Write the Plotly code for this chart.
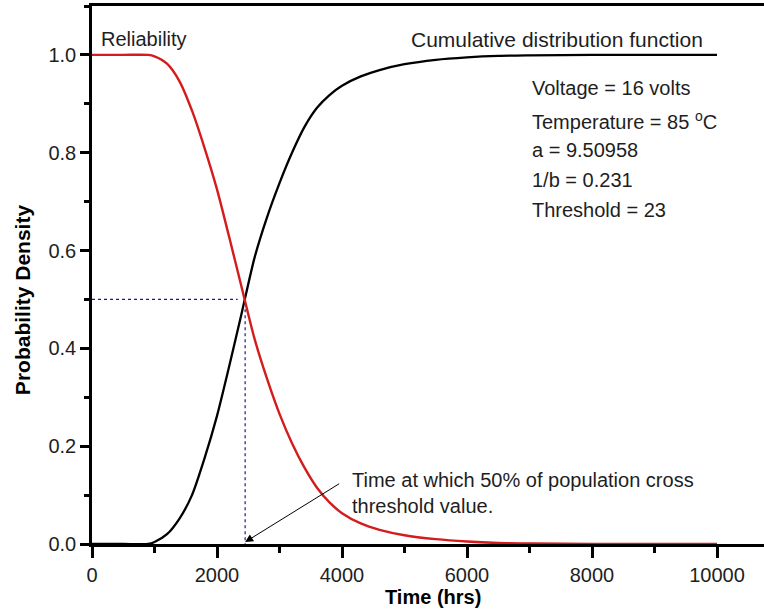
import plotly.graph_objects as go

# Time grid (hours) shared by both curves
time_hrs = [0, 500, 900, 1000, 1200, 1400, 1600, 1800, 2000, 2200, 2400,
            2600, 2800, 3000, 3200, 3400, 3600, 3800, 4000, 4300, 4600, 5000,
            5500, 6000, 6500, 7000, 8000, 9000, 10000]

# Reliability R(t)
reliability = [1.0, 1.0, 1.0, 0.997, 0.982, 0.946, 0.886, 0.810, 0.725, 0.625,
               0.522, 0.420, 0.338, 0.266, 0.206, 0.156, 0.115, 0.085,
               0.063, 0.042, 0.029, 0.018, 0.010, 0.005, 0.002, 0.001, 0.0, 0.0, 0.0]

# Cumulative distribution function F(t)
cdf = [0.0, 0.0, 0.0, 0.004, 0.020, 0.052, 0.100, 0.175, 0.262, 0.366, 0.475,
       0.585, 0.668, 0.738, 0.800, 0.853, 0.892, 0.918, 0.937, 0.956,
       0.969, 0.981, 0.990, 0.995, 0.998, 0.999, 1.0, 1.0, 1.0]

# Median crossing (50 % of population crosses threshold)
median_time = 2450
median_level = 0.5

# Test conditions / fitted parameters
param_lines = ["Voltage = 16 volts",
               "Temperature = 85 <sup>o</sup>C",
               "a = 9.50958",
               "1/b = 0.231",
               "Threshold = 23"]

FONT = "Liberation Sans, Arial, sans-serif"
TXT = "#1e1e1e"

fig = go.Figure()

fig.add_trace(go.Scatter(x=time_hrs, y=cdf, mode="lines",
                         line=dict(color="black", width=2.3, shape="spline", smoothing=0.7),
                         showlegend=False, hoverinfo="skip"))
fig.add_trace(go.Scatter(x=time_hrs, y=reliability, mode="lines",
                         line=dict(color="#d41c1c", width=2.4, shape="spline", smoothing=0.7),
                         showlegend=False, hoverinfo="skip"))

# Dotted guide lines at the median
fig.add_trace(go.Scatter(x=[0, median_time - 120], y=[median_level, median_level], mode="lines",
                         line=dict(color="#1a1a8a", width=1.2, dash="dot"),
                         showlegend=False, hoverinfo="skip"))
fig.add_trace(go.Scatter(x=[median_time, median_time], y=[median_level - 0.02, 0], mode="lines",
                         line=dict(color="#1a1a8a", width=1.2, dash="dot"),
                         showlegend=False, hoverinfo="skip"))

ann = []
ann.append(dict(x=110, y=1.033, xref="x", yref="y", text="Reliability", showarrow=False,
                xanchor="left", yanchor="middle", font=dict(family=FONT, size=20, color=TXT)))
ann.append(dict(x=7440, y=1.031, xref="x", yref="y", text="Cumulative distribution function",
                showarrow=False, xanchor="center", yanchor="middle",
                font=dict(family=FONT, size=21, color=TXT)))

param_y = [0.932, 0.865, 0.806, 0.745, 0.683]
for txt, yy in zip(param_lines, param_y):
    ann.append(dict(x=7010, y=yy, xref="x", yref="y", text=txt, showarrow=False,
                    xanchor="left", yanchor="middle", font=dict(family=FONT, size=20, color=TXT)))

# Arrow pointing at the median time on the axis
ann.append(dict(x=median_time, y=0.004, xref="x", yref="y", ax=4003, ay=0.127,
                axref="x", ayref="y", text=" ", showarrow=True, arrowhead=2,
                arrowsize=1.6, arrowwidth=1, arrowcolor="black"))
ann.append(dict(x=4125, y=0.105, xref="x", yref="y",
                text="Time at which 50% of population cross<br>threshold value.",
                showarrow=False, xanchor="left", yanchor="middle", align="left",
                font=dict(family=FONT, size=20, color=TXT)))

# Axis titles
ann.append(dict(x=-0.104, y=0.4535, xref="paper", yref="paper",
                text="<b>Probability Density</b>", textangle=-90, showarrow=False,
                xanchor="center", yanchor="middle", font=dict(family=FONT, size=21, color="black")))
ann.append(dict(x=0.5074, y=-0.0985, xref="paper", yref="paper",
                text="<b>Time (hrs)</b>", showarrow=False,
                xanchor="center", yanchor="middle", font=dict(family=FONT, size=20, color="black")))

fig.update_layout(
    width=764, height=611,
    margin=dict(l=92, r=0, t=6, b=67),
    paper_bgcolor="white", plot_bgcolor="white",
    annotations=ann,
    xaxis=dict(range=[0, 10752], tickmode="linear", tick0=0, dtick=2000, tickformat="d",
               showgrid=False, zeroline=False, showline=True, linecolor="black", linewidth=2.5,
               mirror=True, ticks="outside", ticklen=11, tickwidth=2.5, tickcolor="black",
               tickfont=dict(family=FONT, size=20, color=TXT),
               minor=dict(dtick=1000, ticks="outside", ticklen=6, tickwidth=2.5, tickcolor="black")),
    yaxis=dict(range=[0, 1.1], tickmode="linear", tick0=0, dtick=0.2, tickformat=".1f",
               showgrid=False, zeroline=False, showline=True, linecolor="black", linewidth=2.5,
               ticks="outside", ticklen=9, tickwidth=2.5, tickcolor="black",
               tickfont=dict(family=FONT, size=20, color=TXT),
               minor=dict(dtick=0.1, ticks="outside", ticklen=5, tickwidth=2.5, tickcolor="black")),
)

fig.write_html("out.html")
